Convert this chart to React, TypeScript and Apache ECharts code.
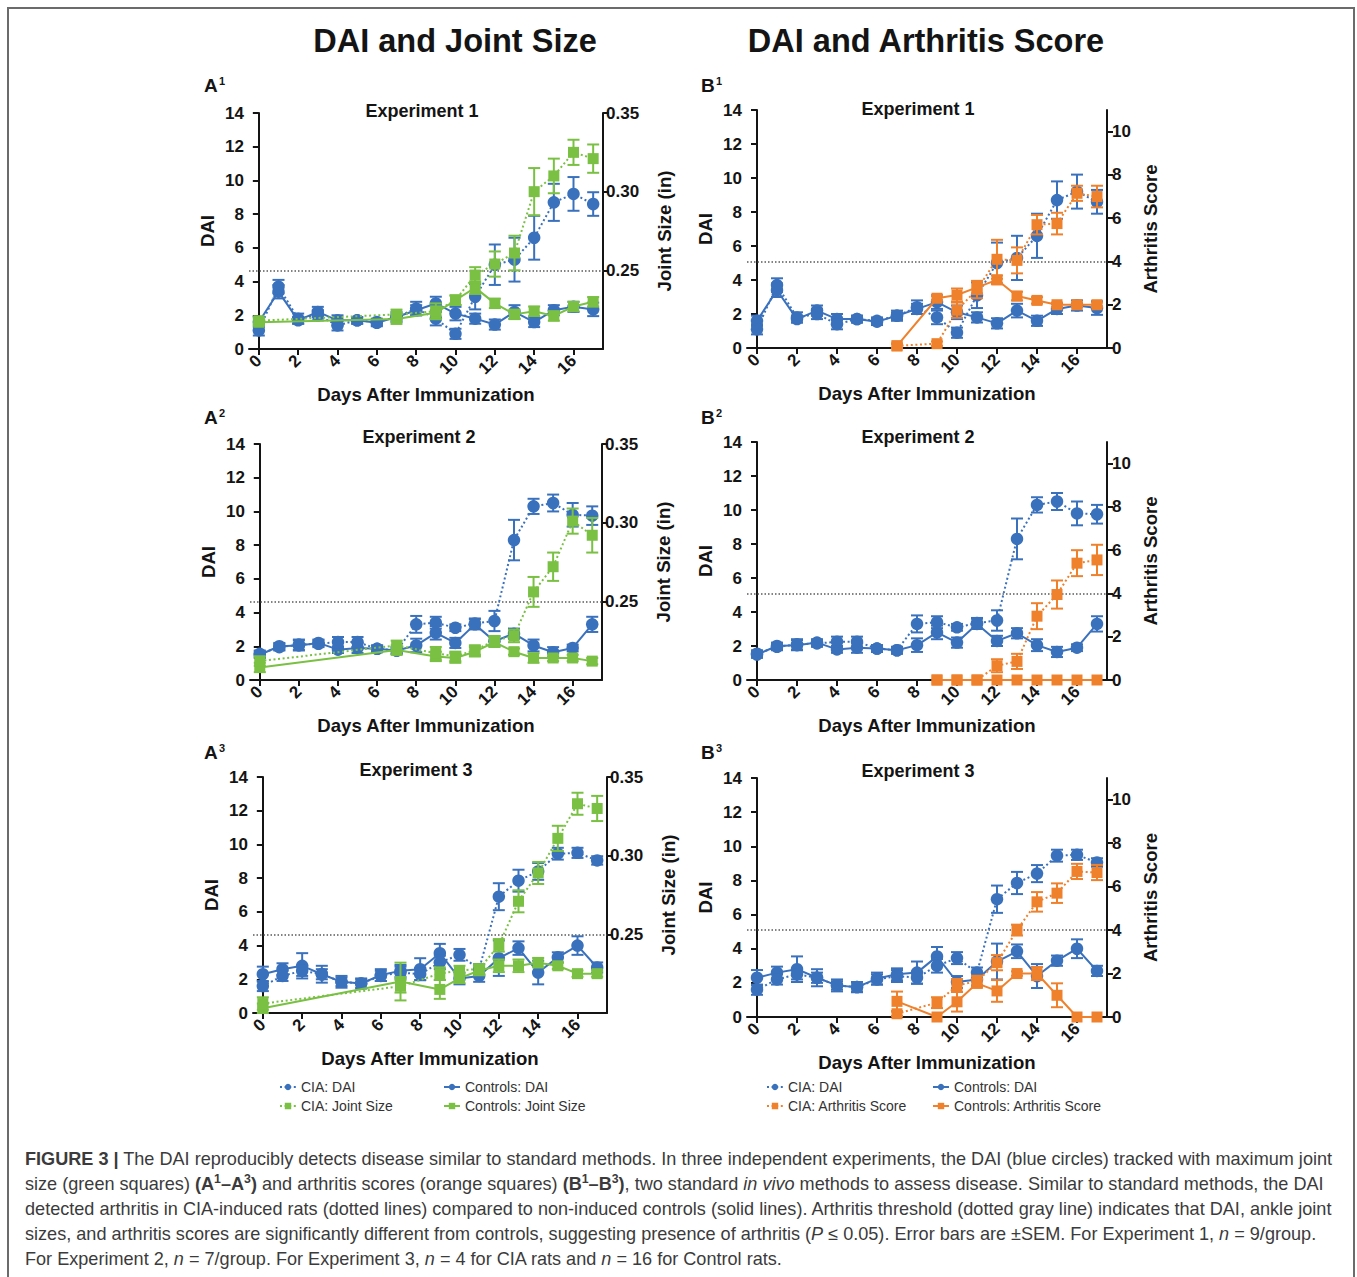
import React, { useEffect, useRef } from 'react';
import * as echarts from 'echarts';

// ---------------- DATA ----------------
const days = [0, 1, 2, 3, 4, 5, 6, 7, 8, 9, 10, 11, 12, 13, 14, 15, 16, 17];
const xTickValues = [0, 2, 4, 6, 8, 10, 12, 14, 16];
const jointSizeTicks = [0.25, 0.3, 0.35];
const arthritisTicks = [0, 2, 4, 6, 8, 10];
const jointThreshold = 0.25;
const arthritisThreshold = 4;

// Experiment 1 – DAI
const e1CiaDai = [1.1, 3.7, 1.8, 2.0, 1.4, 1.7, 1.6, 1.9, 2.4, 1.8, 0.9, 3.1, 5.0, 5.3, 6.6, 8.7, 9.2, 8.6];
const e1CiaDaiSem = [0.3, 0.4, 0.3, 0.3, 0.3, 0.2, 0.2, 0.3, 0.4, 0.4, 0.3, 0.75, 1.2, 1.3, 1.3, 1.1, 1.0, 0.7];
const e1CtlDai = [1.6, 3.4, 1.7, 2.2, 1.7, 1.7, 1.55, 1.9, 2.3, 2.7, 2.1, 1.8, 1.45, 2.2, 1.6, 2.3, 2.5, 2.35];
const e1CtlDaiSem = [0.3, 0.4, 0.2, 0.3, 0.3, 0.2, 0.2, 0.2, 0.3, 0.4, 0.4, 0.3, 0.3, 0.4, 0.3, 0.3, 0.3, 0.4];
// Experiment 1 – Joint size (in)
const e1CiaJs = [0.218, null, null, null, null, null, null, 0.222, null, 0.224, 0.231, 0.247, 0.254, 0.261, 0.300, 0.310, 0.325, 0.321];
const e1CiaJsSem = [0.002, null, null, null, null, null, null, 0.003, null, 0.005, 0.003, 0.005, 0.008, 0.011, 0.015, 0.011, 0.008, 0.009];
const e1CtlJs = [0.217, null, null, null, null, null, null, 0.219, null, 0.223, 0.231, 0.239, 0.229, 0.222, 0.224, 0.221, 0.227, 0.230];
const e1CtlJsSem = [0.002, null, null, null, null, null, null, 0.003, null, 0.004, 0.003, 0.004, 0.003, 0.003, 0.003, 0.003, 0.003, 0.003];
// Experiment 1 – Arthritis score
const e1CiaAs = [null, null, null, null, null, null, null, 0.1, null, 0.2, 1.75, 2.7, 4.1, 4.05, 5.7, 5.75, 7.15, 7.0];
const e1CiaAsSem = [null, null, null, null, null, null, null, 0.1, null, 0.1, 0.35, 0.4, 0.9, 0.6, 0.45, 0.5, 0.35, 0.5];
const e1CtlAs = [null, null, null, null, null, null, null, 0.1, null, 2.3, 2.45, 2.8, 3.15, 2.4, 2.2, 2.0, 2.0, 2.0];
const e1CtlAsSem = [null, null, null, null, null, null, null, 0.1, null, 0.1, 0.3, 0.3, 0.2, 0.2, 0.15, 0.1, 0.1, 0.1];

// Experiment 2 – DAI
const e2CiaDai = [1.55, 1.95, 2.1, 2.15, 2.25, 2.25, 1.85, 1.75, 3.3, 3.4, 3.1, 3.35, 3.5, 8.3, 10.3, 10.5, 9.8, 9.75];
const e2CiaDaiSem = [0.2, 0.2, 0.3, 0.2, 0.3, 0.3, 0.2, 0.2, 0.5, 0.35, 0.2, 0.3, 0.6, 1.2, 0.45, 0.5, 0.7, 0.55];
const e2CtlDai = [1.5, 2.0, 2.05, 2.2, 1.8, 1.9, 1.85, 1.75, 2.05, 2.8, 2.2, 3.3, 2.3, 2.75, 2.05, 1.65, 1.9, 3.3];
const e2CtlDaiSem = [0.2, 0.2, 0.3, 0.2, 0.2, 0.3, 0.2, 0.2, 0.4, 0.4, 0.3, 0.3, 0.3, 0.3, 0.35, 0.3, 0.2, 0.45];
// Experiment 2 – Joint size (in)
const e2CiaJs = [0.212, null, null, null, null, null, null, 0.222, null, 0.217, 0.215, 0.219, 0.225, 0.228, 0.256, 0.272, 0.301, 0.292];
const e2CiaJsSem = [0.003, null, null, null, null, null, null, 0.003, null, 0.004, 0.003, 0.003, 0.003, 0.004, 0.0095, 0.009, 0.008, 0.011];
const e2CtlJs = [0.208, null, null, null, null, null, null, 0.219, null, 0.215, 0.214, 0.218, 0.224, 0.218, 0.214, 0.214, 0.214, 0.212];
const e2CtlJsSem = [0.003, null, null, null, null, null, null, 0.003, null, 0.003, 0.003, 0.003, 0.003, 0.002, 0.003, 0.002, 0.002, 0.002];
// Experiment 2 – Arthritis score
const e2CiaAs = [null, null, null, null, null, null, null, null, null, 0, 0, 0, 0.66, 0.86, 2.95, 3.95, 5.4, 5.55];
const e2CiaAsSem = [null, null, null, null, null, null, null, null, null, 0, 0, 0, 0.3, 0.35, 0.6, 0.65, 0.6, 0.7];
const e2CtlAs = [null, null, null, null, null, null, null, null, null, 0, 0, 0, 0, 0, 0, 0, 0, 0];
const e2CtlAsSem = [null, null, null, null, null, null, null, null, null, 0, 0, 0, 0, 0, 0, 0, 0, 0];

// Experiment 3 – DAI
const e3CiaDai = [1.6, 2.2, 2.5, 2.3, 1.85, 1.75, 2.2, 2.4, 2.3, 3.0, 3.45, 2.6, 6.9, 7.85, 8.4, 9.45, 9.5, 9.05];
const e3CiaDaiSem = [0.3, 0.3, 0.3, 0.3, 0.25, 0.25, 0.3, 0.35, 0.35, 0.4, 0.35, 0.3, 0.8, 0.65, 0.5, 0.35, 0.3, 0.25];
const e3CtlDai = [2.3, 2.6, 2.8, 2.3, 1.85, 1.75, 2.25, 2.5, 2.6, 3.55, 2.05, 2.2, 3.25, 3.85, 2.4, 3.3, 4.0, 2.7];
const e3CtlDaiSem = [0.45, 0.35, 0.75, 0.5, 0.35, 0.3, 0.35, 0.35, 0.65, 0.55, 0.35, 0.35, 1.05, 0.4, 0.7, 0.3, 0.55, 0.3];
// Experiment 3 – Joint size (in)
const e3CiaJs = [0.206, null, null, null, null, null, null, 0.217, null, 0.225, 0.227, 0.228, 0.243, 0.271, 0.289, 0.311, 0.333, 0.330];
const e3CiaJsSem = [0.004, null, null, null, null, null, null, 0.004, null, 0.004, 0.003, 0.003, 0.004, 0.007, 0.007, 0.008, 0.007, 0.008];
const e3CtlJs = [0.203, null, null, null, null, null, null, 0.220, null, 0.215, 0.222, 0.227, 0.230, 0.230, 0.232, 0.230, 0.225, 0.225];
const e3CtlJsSem = [0.003, null, null, null, null, null, null, 0.012, null, 0.006, 0.003, 0.003, 0.004, 0.004, 0.003, 0.002, 0.002, 0.002];
// Experiment 3 – Arthritis score
const e3CiaAs = [null, null, null, null, null, null, null, 0.15, null, 0.66, 1.45, 1.65, 2.5, 4.0, 5.3, 5.7, 6.7, 6.65];
const e3CiaAsSem = [null, null, null, null, null, null, null, 0.1, null, 0.25, 0.3, 0.25, 0.35, 0.25, 0.45, 0.45, 0.35, 0.35];
const e3CtlAs = [null, null, null, null, null, null, null, 0.72, null, 0, 0.7, 1.55, 1.2, 2.0, 2.0, 1.0, 0, 0];
const e3CtlAsSem = [null, null, null, null, null, null, null, 0.45, null, 0, 0.45, 0.2, 0.5, 0.1, 0.3, 0.55, 0, 0];

// ---------------- STYLE / LAYOUT ----------------
const BLUE = '#3a71bd';
const GREEN = '#79c043';
const ORANGE = '#ef812c';
const INK = '#141414';
const FONT = '"Liberation Sans", Arial, Helvetica, sans-serif';

type Panel = {
  label: string; sup: string; exp: string; kind: 'js' | 'as';
  left: number; top: number; width: number; height: number;
  labelPos: [number, number]; expPos: [number, number];
  ciaDai: number[]; ciaDaiSem: number[]; ctlDai: number[]; ctlDaiSem: number[];
  cia2: (number | null)[]; cia2Sem: (number | null)[]; ctl2: (number | null)[]; ctl2Sem: (number | null)[];
};

const panels: Panel[] = [
  { label: 'A', sup: '1', exp: 'Experiment 1', kind: 'js', left: 249, top: 113, width: 354, height: 236, labelPos: [204, 86], expPos: [422, 111],
    ciaDai: e1CiaDai, ciaDaiSem: e1CiaDaiSem, ctlDai: e1CtlDai, ctlDaiSem: e1CtlDaiSem, cia2: e1CiaJs, cia2Sem: e1CiaJsSem, ctl2: e1CtlJs, ctl2Sem: e1CtlJsSem },
  { label: 'B', sup: '1', exp: 'Experiment 1', kind: 'as', left: 747, top: 110, width: 360, height: 238, labelPos: [701, 86], expPos: [918, 109],
    ciaDai: e1CiaDai, ciaDaiSem: e1CiaDaiSem, ctlDai: e1CtlDai, ctlDaiSem: e1CtlDaiSem, cia2: e1CiaAs, cia2Sem: e1CiaAsSem, ctl2: e1CtlAs, ctl2Sem: e1CtlAsSem },
  { label: 'A', sup: '2', exp: 'Experiment 2', kind: 'js', left: 250, top: 444, width: 352, height: 236, labelPos: [204, 418], expPos: [419, 437],
    ciaDai: e2CiaDai, ciaDaiSem: e2CiaDaiSem, ctlDai: e2CtlDai, ctlDaiSem: e2CtlDaiSem, cia2: e2CiaJs, cia2Sem: e2CiaJsSem, ctl2: e2CtlJs, ctl2Sem: e2CtlJsSem },
  { label: 'B', sup: '2', exp: 'Experiment 2', kind: 'as', left: 747, top: 442, width: 360, height: 238, labelPos: [701, 418], expPos: [918, 437],
    ciaDai: e2CiaDai, ciaDaiSem: e2CiaDaiSem, ctlDai: e2CtlDai, ctlDaiSem: e2CtlDaiSem, cia2: e2CiaAs, cia2Sem: e2CiaAsSem, ctl2: e2CtlAs, ctl2Sem: e2CtlAsSem },
  { label: 'A', sup: '3', exp: 'Experiment 3', kind: 'js', left: 253, top: 777, width: 354, height: 236, labelPos: [204, 753], expPos: [416, 770],
    ciaDai: e3CiaDai, ciaDaiSem: e3CiaDaiSem, ctlDai: e3CtlDai, ctlDaiSem: e3CtlDaiSem, cia2: e3CiaJs, cia2Sem: e3CiaJsSem, ctl2: e3CtlJs, ctl2Sem: e3CtlJsSem },
  { label: 'B', sup: '3', exp: 'Experiment 3', kind: 'as', left: 747, top: 778, width: 360, height: 239, labelPos: [701, 753], expPos: [918, 771],
    ciaDai: e3CiaDai, ciaDaiSem: e3CiaDaiSem, ctlDai: e3CtlDai, ctlDaiSem: e3CtlDaiSem, cia2: e3CiaAs, cia2Sem: e3CiaAsSem, ctl2: e3CtlAs, ctl2Sem: e3CtlAsSem },
];

const DOT: number[] = [2, 2.6];

function pairs(vals: (number | null)[], sems: (number | null)[]) {
  const out: number[][] = [];
  days.forEach((d, i) => {
    const v = vals[i];
    if (v !== null && v !== undefined) out.push([d, v, (sems[i] as number) || 0]);
  });
  return out;
}

function makeSeries(name: string, color: string, dotted: boolean, symbol: string, size: number,
  gi: number, yi: number, vals: (number | null)[], sems: (number | null)[], z: number, extra: any = {}) {
  const pts = pairs(vals, sems);
  const line = {
    type: 'line', name, xAxisIndex: gi, yAxisIndex: yi,
    data: pts.map((p) => [p[0], p[1]]),
    symbol, symbolSize: size, showSymbol: true,
    lineStyle: { color, width: 2, type: dotted ? DOT : 'solid' },
    itemStyle: { color, borderWidth: 0 },
    emphasis: { disabled: true },
    z: z + 1, ...extra,
  };
  const err = {
    type: 'custom', name: '_err_' + name, xAxisIndex: gi, yAxisIndex: yi,
    data: pts.filter((p) => p[2] > 0),
    encode: { x: 0, y: 1 },
    silent: true, z,
    renderItem: (params: any, api: any) => {
      const x = api.value(0), y = api.value(1), e = api.value(2);
      const t = api.coord([x, y + e]);
      const b = api.coord([x, y - e]);
      const hw = 6;
      const st = { stroke: color, lineWidth: 2, fill: 'none' };
      return {
        type: 'group', children: [
          { type: 'line', shape: { x1: t[0], y1: t[1], x2: b[0], y2: b[1] }, style: st },
          { type: 'line', shape: { x1: t[0] - hw, y1: t[1], x2: t[0] + hw, y2: t[1] }, style: st },
          { type: 'line', shape: { x1: b[0] - hw, y1: b[1], x2: b[0] + hw, y2: b[1] }, style: st },
        ],
      };
    },
  };
  return [err, line];
}

function buildOption() {
  const grids: any[] = [];
  const xAxes: any[] = [];
  const yAxes: any[] = [];
  const series: any[] = [];
  const graphics: any[] = [];

  const axisLineStyle = { color: INK, width: 2 };
  const tickStyle = { color: INK, width: 2 };
  const labelStyle = { color: INK, fontSize: 17, fontWeight: 'bold', fontFamily: FONT };
  const nameStyle = { color: INK, fontSize: 18.6, fontWeight: 'bold', fontFamily: FONT };

  panels.forEach((p, gi) => {
    grids.push({ left: p.left, top: p.top, width: p.width, height: p.height });
    xAxes.push({
      type: 'value', gridIndex: gi, min: -0.5, max: 17.5,
      axisLine: { show: true, lineStyle: axisLineStyle, onZero: false },
      axisTick: { show: true, customValues: xTickValues, length: 6, lineStyle: tickStyle },
      axisLabel: { customValues: xTickValues, rotate: 45, margin: 9, ...labelStyle },
      splitLine: { show: false },
      name: 'Days After Immunization', nameLocation: 'middle', nameGap: 36, nameTextStyle: nameStyle,
    });
    yAxes.push({
      type: 'value', gridIndex: gi, min: 0, max: 14, interval: 2, position: 'left',
      axisLine: { show: true, lineStyle: axisLineStyle },
      axisTick: { show: true, length: 6, lineStyle: tickStyle },
      axisLabel: { margin: 5, ...labelStyle },
      splitLine: { show: false },
      name: 'DAI', nameLocation: 'middle', nameRotate: 90, nameGap: 32, nameTextStyle: nameStyle,
    });
    if (p.kind === 'js') {
      yAxes.push({
        type: 'value', gridIndex: gi, min: 0.2, max: 0.35, position: 'right',
        axisLine: { show: true, lineStyle: axisLineStyle },
        axisTick: { show: true, customValues: jointSizeTicks, length: 6, lineStyle: tickStyle },
        axisLabel: { customValues: jointSizeTicks, margin: 3, formatter: (v: number) => v.toFixed(2), ...labelStyle },
        splitLine: { show: false },
        name: 'Joint Size (in)', nameLocation: 'middle', nameRotate: 90, nameGap: 52, nameTextStyle: nameStyle,
      });
    } else {
      yAxes.push({
        type: 'value', gridIndex: gi, min: 0, max: 11, position: 'right',
        axisLine: { show: true, lineStyle: axisLineStyle },
        axisTick: { show: true, customValues: arthritisTicks, length: 6, lineStyle: tickStyle },
        axisLabel: { customValues: arthritisTicks, margin: 5, ...labelStyle },
        splitLine: { show: false },
        name: 'Arthritis Score', nameLocation: 'middle', nameRotate: 90, nameGap: 34, nameTextStyle: nameStyle,
      });
    }
    const yl = gi * 2, yr = gi * 2 + 1;
    const c2 = p.kind === 'js' ? GREEN : ORANGE;
    const n2 = p.kind === 'js' ? 'Joint Size' : 'Arthritis Score';
    series.push(...makeSeries('Controls: DAI', BLUE, false, 'circle', 12.5, gi, yl, p.ctlDai, p.ctlDaiSem, 10));
    series.push(...makeSeries('CIA: DAI', BLUE, true, 'circle', 12.5, gi, yl, p.ciaDai, p.ciaDaiSem, 12));
    series.push(...makeSeries('Controls: ' + n2, c2, false, 'rect', 11, gi, yr, p.ctl2, p.ctl2Sem, 14));
    series.push(...makeSeries('CIA: ' + n2, c2, true, 'rect', 11, gi, yr, p.cia2, p.cia2Sem, 16, {
      markLine: {
        silent: true, symbol: 'none', label: { show: false }, z: 1,
        lineStyle: { color: '#5a5a5a', type: [1.5, 2], width: 1.5 },
        emphasis: { disabled: true },
        data: [{ yAxis: p.kind === 'js' ? jointThreshold : arthritisThreshold }],
      },
    }));

    graphics.push({ type: 'text', left: p.labelPos[0], top: p.labelPos[1] - 10,
      style: { text: p.label, font: `bold 19px ${FONT}`, fill: INK } });
    graphics.push({ type: 'text', left: p.labelPos[0] + 15, top: p.labelPos[1] - 11,
      style: { text: p.sup, font: `bold 11px ${FONT}`, fill: INK } });
    graphics.push({ type: 'text', x: p.expPos[0], y: p.expPos[1],
      style: { text: p.exp, font: `bold 18px ${FONT}`, fill: INK, align: 'center', verticalAlign: 'middle' } });
  });

  graphics.push({ type: 'text', x: 455, y: 41,
    style: { text: 'DAI and Joint Size', font: `bold 32.5px ${FONT}`, fill: INK, align: 'center', verticalAlign: 'middle' } });
  graphics.push({ type: 'text', x: 926, y: 41,
    style: { text: 'DAI and Arthritis Score', font: `bold 32.5px ${FONT}`, fill: INK, align: 'center', verticalAlign: 'middle' } });

  const legendBase = {
    orient: 'vertical', itemWidth: 16, itemHeight: 8, itemGap: 5, selectedMode: false,
    textStyle: { fontSize: 14, color: '#333', fontFamily: FONT }, padding: 0,
  };
  const legends = [
    { ...legendBase, left: 279, top: 1080, data: ['CIA: DAI', 'CIA: Joint Size'] },
    { ...legendBase, left: 443, top: 1080, data: ['Controls: DAI', 'Controls: Joint Size'] },
    { ...legendBase, left: 766, top: 1080, data: ['CIA: DAI', 'CIA: Arthritis Score'] },
    { ...legendBase, left: 932, top: 1080, data: ['Controls: DAI', 'Controls: Arthritis Score'] },
  ];

  return {
    animation: false,
    backgroundColor: 'transparent',
    textStyle: { fontFamily: FONT },
    grid: grids, xAxis: xAxes, yAxis: yAxes, series, legend: legends,
    graphic: graphics,
  };
}

export default function App() {
  const ref = useRef<HTMLDivElement>(null);
  useEffect(() => {
    if (!ref.current) return;
    const chart = echarts.init(ref.current, null, { renderer: 'svg' });
    chart.setOption(buildOption() as any);
    return () => chart.dispose();
  }, []);

  const cap: React.CSSProperties = {
    position: 'absolute', left: 25, top: 1147, fontFamily: FONT, fontSize: 18.1, lineHeight: '25px',
    color: '#3b3b3b', whiteSpace: 'nowrap',
  };
  const sup: React.CSSProperties = { fontSize: '0.68em', verticalAlign: 'super', lineHeight: 0 };

  return (
    <div style={{ position: 'absolute', left: 0, top: 0, width: 1357, height: 1277, background: '#fff', overflow: 'hidden' }}>
      <div style={{ position: 'absolute', left: 7, top: 7, width: 1348, height: 1300, border: '2px solid #6b6b6b', boxSizing: 'border-box' }} />
      <div ref={ref} style={{ position: 'absolute', left: 0, top: 0, width: 1357, height: 1130 }} />
      <div style={cap}>
        <b>FIGURE 3 |</b> The DAI reproducibly detects disease similar to standard methods. In three independent experiments, the DAI (blue circles) tracked with maximum joint<br />
        size (green squares) <b>(A<sup style={sup}>1</sup>–A<sup style={sup}>3</sup>)</b> and arthritis scores (orange squares) <b>(B<sup style={sup}>1</sup>–B<sup style={sup}>3</sup>)</b>, two standard <i>in vivo</i> methods to assess disease. Similar to standard methods, the DAI<br />
        detected arthritis in CIA-induced rats (dotted lines) compared to non-induced controls (solid lines). Arthritis threshold (dotted gray line) indicates that DAI, ankle joint<br />
        sizes, and arthritis scores are significantly different from controls, suggesting presence of arthritis (<i>P</i> ≤ 0.05). Error bars are ±SEM. For Experiment 1, <i>n</i> = 9/group.<br />
        For Experiment 2, <i>n</i> = 7/group. For Experiment 3, <i>n</i> = 4 for CIA rats and <i>n</i> = 16 for Control rats.
      </div>
    </div>
  );
}
